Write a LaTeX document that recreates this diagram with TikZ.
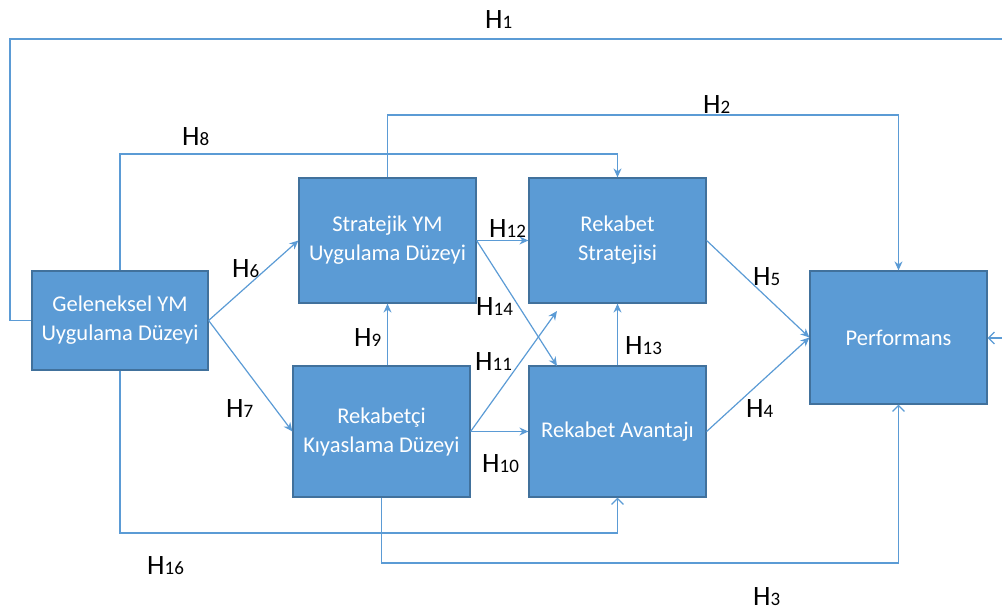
\documentclass[tikz,border=0pt]{standalone}
\usepackage{fontspec}
\setmainfont{Carlito}
\usetikzlibrary{arrows.meta}
\definecolor{boxfill}{HTML}{5B9BD5}
\definecolor{boxline}{HTML}{41719C}
\definecolor{conn}{HTML}{5B9BD5}
\newcommand{\hl}[1]{H{\fontsize{19}{19}\selectfont #1}}
\begin{document}
\begin{tikzpicture}[x=1pt,y=-1pt,
  box/.style={draw=boxline, line width=1.2pt, fill=boxfill, text=white, align=center,
    font=\fontsize{22.5}{29}\selectfont, inner sep=0pt, minimum width=177pt},
  conn/.style={draw=conn, line width=1.2pt},
  arr/.style={conn, -{Stealth[length=9pt,width=8pt]}},
  oarr/.style={conn, -{Straight Barb[length=6pt,width=12pt,line width=1.2pt]}},
  hlab/.style={anchor=base west, inner sep=0pt, font=\fontsize{28}{28}\selectfont}]
\useasboundingbox (0,0) rectangle (1002,614);
% nodes
\node[box, minimum width=176pt, minimum height=99pt] (gel) at (120,320.5) {Geleneksel YM\\Uygulama Düzeyi};
\node[box, minimum height=125pt] (st) at (387.5,240.5) {Stratejik YM\\Uygulama Düzeyi};
\node[box, minimum height=131pt] (rk) at (381.5,431.5) {Rekabetçi\\Kıyaslama Düzeyi};
\node[box, minimum height=125pt] (rs) at (617.5,240.5) {Rekabet\\Stratejisi};
\node[box, minimum height=131pt] (ra) at (617.5,431.5) {Rekabet Avantajı};
\node[box, minimum height=133pt] (perf) at (898.5,337.5) {Performans};
% free ends
\coordinate (h1out) at (1002,39);
\coordinate (h1in) at (1002,338);
\coordinate (h11e) at (557,311);
\coordinate (h14e) at (557,366);
% connectors
\draw[conn] (gel.west) -- (10,320.5) -- (10,39) -- (h1out);
\draw[oarr] (h1in) -- (perf.east |- h1in);
\draw[arr] (st.north) -- (st.north |- 0,115) -| (perf.north);
\draw[arr] (gel.north) -- (gel.north |- 0,154) -| (rs.north);
\draw[oarr] (gel.south) -- (gel.south |- 0,533) -| (ra.south);
\draw[oarr] (rk.south) -- (rk.south |- 0,563) -| (perf.south);
\draw[arr] (gel.east) -- (st.west);
\draw[arr] (gel.east) -- (rk.west);
\draw[arr] (rk.north -| st.south) -- (st.south);
\draw[arr] (st.east) -- (rs.west);
\draw[arr] (st.east) -- (h14e);
\draw[arr] (rk.east) -- (h11e);
\draw[arr] (rk.east) -- (ra.west);
\draw[arr] (ra.north) -- (rs.south);
\draw[arr] (rs.east) -- (perf.west);
\draw[arr] (ra.east) -- (perf.west);
% labels
\node[hlab] (l1) at (485,28) {\hl{1}};
\node[hlab] (l2) at (703,113) {\hl{2}};
\node[hlab] (l8) at (182,145) {\hl{8}};
\node[hlab] (l6) at (232,277) {\hl{6}};
\node[hlab] (l7) at (226,417) {\hl{7}};
\node[hlab] (l12) at (489,237) {\hl{12}};
\node[hlab] (l14) at (476,315) {\hl{14}};
\node[hlab] (l9) at (354,346) {\hl{9}};
\node[hlab] (l11) at (475,370) {\hl{11}};
\node[hlab] (l13) at (625,354) {\hl{13}};
\node[hlab] (l10) at (482,472) {\hl{10}};
\node[hlab] (l5) at (753,285) {\hl{5}};
\node[hlab] (l4) at (746,417) {\hl{4}};
\node[hlab] (l16) at (147,574) {\hl{16}};
\node[hlab] (l3) at (753,605) {\hl{3}};
\end{tikzpicture}
\end{document}
